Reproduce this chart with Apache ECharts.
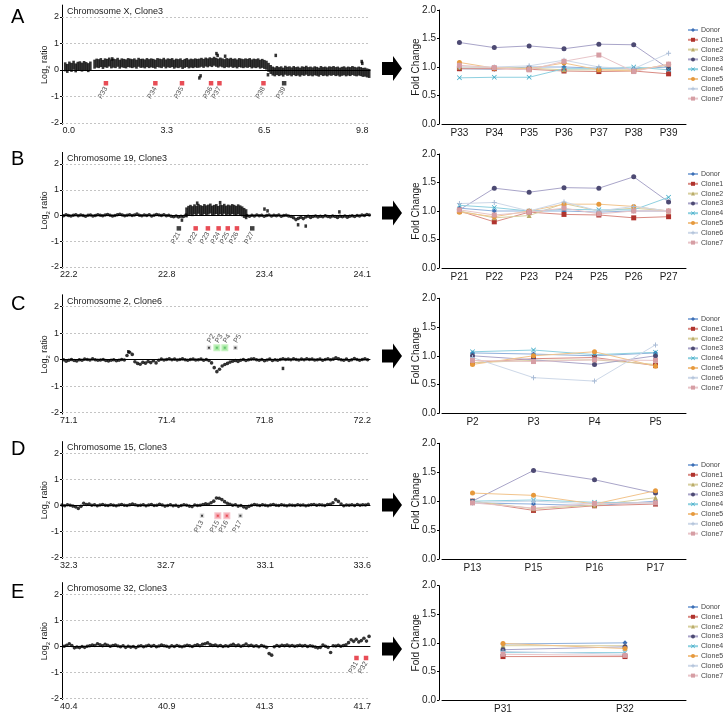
<!DOCTYPE html>
<html><head><meta charset="utf-8">
<script src="https://cdn.jsdelivr.net/npm/echarts@6/dist/echarts.min.js"></script>
<style>html,body{margin:0;padding:0;background:#fff}#c{width:725px;height:714px}</style>
</head><body><div id="c"></div>
<script>
// ================= DATA =================
const panelLetters = ['A','B','C','D','E'];
const titles = ['Chromosome X, Clone3','Chromosome 19, Clone3','Chromosome 2, Clone6','Chromosome 15, Clone3','Chromosome 32, Clone3'];
const log2Ticks = [-2,-1,0,1,2];
const log2Grid = [-2,-1,1,2];
const ticksA = [0.0, 3.27, 6.53, 9.8];
const ticksB = [22.16, 22.8, 23.44, 24.08];
const ticksC = [71.06, 71.43, 71.8, 72.17];
const ticksD = [32.26, 32.69, 33.13, 33.56];
const ticksE = [40.44, 40.86, 41.28, 41.7];

// dense probe band, panel A (evenly spaced probes)
const bandStartA = -0.12, bandStepA = 0.07;
const bandA = [0.12,0.06,0.15,0.10,0.18,0.08,0.14,0.16,0.11,0.17,0.13,0.09,0.15,
 null,
 0.22,0.26,0.24,0.28,0.21,0.27,0.25,0.30,0.23,0.26,
 0.24,0.29,0.22,0.27,0.25,0.23,0.28,0.26,0.24,0.27,
 0.22,0.29,0.25,0.26,0.23,0.28,0.24,0.27,0.25,0.22,
 0.28,0.26,0.24,0.29,0.23,0.27,0.25,0.28,0.22,0.26,
 0.24,0.27,0.21,0.25,0.28,0.23,0.26,0.24,0.27,0.25,
 0.26,0.29,0.25,0.30,0.27,0.31,0.28,0.33,0.29,0.26,
 0.30,0.27,0.24,0.28,0.26,0.29,0.25,0.27,0.23,0.28,
 0.26,0.24,0.27,0.25,0.28,0.23,0.26,0.24,0.27,0.22,
 0.25,0.21,0.18,
 0.10,0.02,
 -0.04,-0.07,-0.02,-0.06,-0.03,-0.08,-0.01,-0.05,-0.03,-0.07,
 -0.02,-0.06,-0.04,-0.08,-0.03,-0.05,-0.01,-0.06,-0.04,-0.07,
 -0.03,-0.05,-0.08,-0.02,-0.06,-0.04,-0.07,-0.03,-0.05,-0.02,
 -0.06,-0.04,-0.08,-0.05,-0.03,-0.07,-0.04,-0.06,-0.02,-0.05,
 -0.07,-0.04,-0.06,-0.09,-0.08,-0.11,-0.13];
const outA = [[4.36,-0.30],[4.40,-0.22],[4.93,0.62],[4.97,0.55],[5.22,0.52],[6.65,-0.18],[6.91,0.55],[9.78,0.32],[9.80,0.25],[1.45,0.42]];

// panel B
const dotStartB = 22.11, dotStepB = 0.016;
const dotsB = [0.02,-0.01,0.03,0.00,-0.02,0.01,0.03,-0.01,0.02,0.00,
 -0.03,0.01,0.02,-0.02,0.00,0.03,0.01,-0.01,0.02,0.04,
 0.01,-0.02,0.00,0.03,0.05,0.02,-0.01,0.01,0.03,0.00,
 0.02,0.06,0.01,-0.01,0.02,0.00,0.03,-0.02,0.01,0.04,
 0.02,0.00,0.03,-0.01,0.01,-0.03,-0.05,-0.02,-0.06,-0.03,
 -0.04,0.02,
 null,null,null,null,null,null,null,null,null,null,null,null,
 null,null,null,null,null,null,null,null,null,null,null,null,
 0.00,-0.03,0.01,-0.02,0.02,-0.01,0.01,-0.03,0.00,0.02,
 -0.02,0.01,-0.01,0.02,-0.03,0.00,0.01,-0.02,-0.04,
 -0.09,-0.16,-0.11,-0.07,-0.12,
 -0.06,-0.03,-0.08,-0.04,-0.02,-0.06,-0.03,-0.05,-0.01,-0.04,
 -0.06,-0.02,-0.04,-0.08,-0.03,-0.05,-0.02,-0.07,-0.03,-0.01,
 -0.04,0.00,-0.02,0.02,0.00,0.04,0.02];
const bandStartB = 22.93, bandStepB = 0.013;
const bandB = [0.12,0.18,0.22,0.17,0.24,0.19,0.26,0.21,0.18,0.25,
 0.20,0.23,0.27,0.19,0.22,0.25,0.18,0.24,0.21,0.26,
 0.19,0.23,0.20,0.25,0.22,0.18,0.24,0.20,0.16,0.10,0.05];
const outB = [[22.90,-0.18],[23.44,0.25],[23.46,0.18],[23.66,-0.36],[23.71,-0.41],[23.93,0.14],[23.00,0.48],[23.15,0.50]];

// panel C
const dotStartC = 71.03, dotStepC = 0.01;
const dotsC = [-0.04,0.00,-0.06,-0.02,0.01,-0.03,-0.05,0.00,-0.02,0.02,
 0.01,-0.01,0.03,0.00,-0.02,-0.01,0.01,-0.03,-0.05,-0.02,
 0.00,-0.04,-0.02,0.01,-0.01,
 0.16,0.28,0.20,
 -0.08,-0.14,-0.17,-0.10,-0.13,-0.07,-0.11,-0.04,-0.12,
 -0.02,0.02,-0.01,0.01,0.03,0.00,0.02,-0.01,0.01,0.03,
 0.00,-0.02,0.01,0.02,-0.01,0.00,0.02,-0.02,0.01,-0.03,
 -0.12,-0.30,-0.45,-0.36,-0.24,-0.18,
 -0.14,-0.09,-0.06,-0.03,-0.07,
 -0.02,0.01,-0.03,0.00,0.02,0.03,0.00,-0.02,0.01,-0.04,
 -0.01,0.02,-0.03,0.00,-0.02,0.01,
 0.03,0.01,0.02,0.00,0.03,0.01,-0.01,0.02,0.00,0.03,
 0.01,0.02,-0.01,0.00,0.02,-0.02,0.01,0.03,0.00,0.02,
 0.07,0.03,0.00,-0.02,0.02,-0.03,0.00,0.04,0.01,-0.02,
 0.01,0.03,0.00,0.02];
const outC = [[71.87,-0.33],[71.285,0.30]];

// panel D
const dotStartD = 32.23, dotStepD = 0.012;
const dotsD = [0.01,-0.02,0.02,0.00,-0.03,-0.06,-0.12,-0.04,0.08,0.03,
 0.05,0.00,0.02,-0.02,0.01,0.03,0.00,-0.01,0.02,0.00,
 -0.02,0.01,0.03,0.00,-0.01,0.02,0.05,0.02,-0.01,0.00,
 0.02,-0.02,0.01,0.03,-0.01,0.00,0.04,0.01,-0.03,-0.01,
 0.02,-0.02,0.00,-0.04,-0.01,0.02,0.00,-0.03,-0.05,0.01,
 -0.01,0.00,0.03,0.06,0.04,
 0.10,0.16,0.28,0.27,0.22,0.14,0.08,0.04,
 0.00,0.02,-0.03,-0.01,-0.06,-0.10,-0.04,
 0.00,0.03,0.01,-0.01,0.02,0.00,-0.02,0.01,0.03,0.00,
 -0.01,0.02,0.00,-0.02,0.01,0.00,-0.01,0.02,0.00,0.01,
 -0.02,0.00,0.02,0.03,0.00,0.02,0.01,-0.01,0.03,0.04,
 0.10,0.22,0.15,0.05,-0.02,0.01,0.00,0.02,-0.01,0.03,
 0.00,0.02,0.01,0.04,0.03];
const outD = [];

// panel E
const dotStartE = 40.42, dotStepE = 0.011;
const dotsE = [0.00,0.04,0.10,0.03,-0.06,-0.03,-0.05,-0.01,-0.04,0.00,
 0.02,0.05,0.03,0.10,0.06,0.02,0.08,0.04,0.00,0.03,
 0.05,0.01,-0.02,0.02,-0.04,0.00,-0.03,-0.01,-0.05,0.00,
 0.02,-0.02,0.01,0.04,0.00,0.03,-0.02,0.01,0.05,0.02,
 0.00,-0.03,0.02,-0.01,0.03,0.00,-0.02,0.01,0.04,0.02,
 -0.01,0.03,0.06,0.02,0.08,0.10,0.13,0.07,0.03,0.05,
 0.01,0.03,-0.01,0.02,0.00,0.04,0.08,0.02,0.05,0.00,
 0.03,0.09,0.02,0.04,0.00,0.02,-0.02,0.03,0.00,-0.04,
 -0.28,-0.34,-0.02,0.03,0.00,0.04,0.02,0.05,0.01,0.03,
 0.00,0.02,0.04,0.01,0.03,-0.01,0.02,0.00,-0.03,-0.06,
 -0.04,0.05,0.00,-0.04,-0.24,0.02,0.01,0.04,0.00,0.03,
 0.06,0.14,0.25,0.19,0.27,0.17,0.22,0.31,0.20,0.38];
const outE = [];

// probe positions (Mb) and log2 level where they are drawn; kind: r = red, g = green, n = black
const probesA = ['P33','P34','P35','P36','P37','P38','P39'];
const probePosA = [1.24,2.89,3.78,4.75,5.03,6.50,7.19];
const probeKindA = ['r','r','r','r','r','r','n'];
const probeLevelA = -0.5;
const probesB = ['P21','P22','P23','P24','P25','P26','P27'];
const probePosB = [22.88,22.99,23.07,23.14,23.20,23.26,23.36];
const probeKindB = ['n','r','r','r','r','r','n'];
const probeLevelB = -0.5;
const probesC = ['P2','P3','P4','P5'];
const probePosC = [71.59,71.62,71.65,71.69];
const probeKindC = ['n','g','g','n'];
const probeLevelC = 0.45;
const probesD = ['P13','P15','P16','P17'];
const probePosD = [32.85,32.92,32.96,33.02];
const probeKindD = ['n','r','r','n'];
const probeLevelD = -0.4;
const probesE = ['P31','P32'];
const probePosE = [41.675,41.716];
const probeKindE = ['r','r'];
const probeLevelE = -0.45;

// fold change (right panels); rows follow cloneNames order
const cloneNames = ['Donor','Clone1','Clone2','Clone3','Clone4','Clone5','Clone6','Clone7'];
const foldA = [
 [0.97,0.96,1.00,1.00,0.98,0.97,1.00],
 [0.97,0.97,0.96,0.93,0.92,0.93,0.88],
 [1.00,0.99,0.98,0.95,0.95,0.95,1.03],
 [1.43,1.34,1.37,1.32,1.40,1.39,0.97],
 [0.81,0.82,0.82,0.97,0.97,1.00,0.95],
 [1.08,0.98,0.97,1.07,0.95,0.93,1.05],
 [1.00,1.00,1.02,1.12,1.00,0.97,1.24],
 [1.03,0.99,0.95,1.10,1.21,0.92,1.05]];
const foldB = [
 [1.05,1.00,1.00,1.00,0.98,1.00,1.00],
 [1.00,0.81,0.98,0.94,0.93,0.88,0.90],
 [1.00,0.88,0.92,1.13,1.00,1.05,1.00],
 [1.02,1.40,1.33,1.41,1.40,1.60,1.16],
 [1.10,1.06,1.00,1.03,1.02,1.02,1.24],
 [0.98,0.90,1.00,1.12,1.12,1.08,1.00],
 [1.13,1.15,1.00,1.16,1.00,1.08,1.00],
 [1.02,0.93,0.98,1.05,0.95,1.00,1.00]];
const foldC = [
 [1.05,1.03,1.00,1.05],
 [0.88,0.95,0.97,0.83],
 [0.88,0.92,0.93,0.85],
 [1.00,0.93,0.85,1.00],
 [1.07,1.10,1.02,1.06],
 [0.85,1.00,1.07,0.82],
 [0.97,0.62,0.56,1.19],
 [0.92,0.90,0.93,0.92]];
const foldD = [
 [0.97,0.95,0.92,1.00],
 [1.00,0.84,0.92,0.95],
 [1.00,0.87,0.93,1.06],
 [1.00,1.53,1.37,1.14],
 [1.00,1.02,0.98,0.97],
 [1.14,1.10,0.95,1.18],
 [0.98,1.00,0.95,0.98],
 [0.97,0.88,0.96,0.97]];
const foldE = [
 [0.98,1.00],
 [0.76,0.76],
 [0.95,0.95],
 [0.88,0.93],
 [0.83,0.83],
 [0.99,0.90],
 [0.85,0.80],
 [0.80,0.78]];

// ================= LAYOUT / STYLE =================
const FONT = "'Liberation Sans', Arial, Helvetica, sans-serif";
const markColor = ['#3d6fb5','#b0342e','#b9ab68','#4d4a73','#35a6c4','#e6993c','#a9bcd6','#d69ea4'];
const lineColor = ['#8fb0dc','#d98a82','#d8cf9e','#a9a5c9','#8ed0e0','#f2c48c','#cdd8e8','#e8c5c9'];
const markSymbol = ['diamond','rect','triangle','circle',
  'path://M1,0L5,4L9,0L10,1L6,5L10,9L9,10L5,6L1,10L0,9L4,5L0,1Z','circle',
  'path://M4,0H6V4H10V6H6V10H4V6H0V4H4Z','rect'];
const kindColor = {r:'#e2202c', g:'#3cb54a', n:'#111111'};
const kindHalo = {r:'#f6b8c0', g:'#b6f0b0', n:'#ffffff'};

const leftPanels = [
 {ticks:ticksA, y2:17,    ym2:123,   band:{s:bandStartA,d:bandStepA,v:bandA,h:9}, dots:null, out:outA,
  pr:{n:probesA,p:probePosA,k:probeKindA,l:probeLevelA,side:'below',halo:false}},
 {ticks:ticksB, y2:164,   ym2:267,   band:{s:bandStartB,d:bandStepB,v:bandB,h:10}, dots:{s:dotStartB,d:dotStepB,v:dotsB}, out:outB,
  pr:{n:probesB,p:probePosB,k:probeKindB,l:probeLevelB,side:'below',halo:false}},
 {ticks:ticksC, y2:306.7, ym2:412.7, band:null, dots:{s:dotStartC,d:dotStepC,v:dotsC}, out:outC,
  pr:{n:probesC,p:probePosC,k:probeKindC,l:probeLevelC,side:'above',halo:true}},
 {ticks:ticksD, y2:453.3, ym2:557.3, band:null, dots:{s:dotStartD,d:dotStepD,v:dotsD}, out:outD,
  pr:{n:probesD,p:probePosD,k:probeKindD,l:probeLevelD,side:'below',halo:true}},
 {ticks:ticksE, y2:594.3, ym2:698.3, band:null, dots:{s:dotStartE,d:dotStepE,v:dotsE}, out:outE,
  pr:{n:probesE,p:probePosE,k:probeKindE,l:probeLevelE,side:'below',halo:false}}
];
const rightPanels = [
 {cats:probesA, fold:foldA, y2:10,    y0:124,   legTop:26},
 {cats:probesB, fold:foldB, y2:154,   y0:268,   legTop:170},
 {cats:probesC, fold:foldC, y2:298.3, y0:413.3, legTop:315},
 {cats:probesD, fold:foldD, y2:443.3, y0:559,   legTop:461},
 {cats:probesE, fold:foldE, y2:585.7, y0:700.7, legTop:603}
];
const arrowY = [68.5, 213, 356, 505, 649];
const letterY = [18, 160, 305, 450, 593];

// ================= BUILD =================
const grid = [], xAxis = [], yAxis = [], series = [], title = [], legend = [], graphic = [];
const txt = '#1a1a1a';
const seq = (b) => b.v.map((v,i)=>[+(b.s + i*b.d).toFixed(4), v]).filter(p=>p[1]!==null);

leftPanels.forEach((p, k) => {
  const gi = grid.length;
  const u = (p.ym2 - p.y2) / 4;
  const top = p.y2 - 0.45*u, bottom = p.ym2 + 0.05*u;
  grid.push({left:62, width:308, top:top, height:bottom-top});
  const s = p.ticks[0], e = p.ticks[p.ticks.length-1], L = e - s;
  xAxis.push({gridIndex:gi, type:'value', min: s - 6.8*L/293.5, max: e + 7.7*L/293.5,
    axisLine:{show:true, lineStyle:{color:'#000', width:1}}, axisTick:{show:false}, splitLine:{show:false},
    axisLabel:{customValues:p.ticks, formatter:(v)=>v.toFixed(1), fontSize:9, color:txt, margin:2, fontFamily:FONT}});
  yAxis.push({gridIndex:gi, type:'value', min:-2.05, max:2.45,
    axisLine:{show:true, onZero:false, lineStyle:{color:'#000', width:1}},
    axisTick:{show:true, customValues:log2Ticks, length:2, lineStyle:{color:'#000'}},
    splitLine:{show:false},
    axisLabel:{customValues:log2Ticks, formatter:(v)=>String(v), fontSize:9, color:txt, margin:3, fontFamily:FONT},
    name:'{n|Log}{s|2}{n| ratio}', nameLocation:'middle', nameGap:11, nameMoveOverlap:false,
    nameTextStyle:{rich:{n:{fontSize:9, color:txt, lineHeight:12, fontFamily:FONT}, s:{fontSize:6, color:txt, lineHeight:12, verticalAlign:'bottom', fontFamily:FONT}}}});
  title.push({text:titles[k], left:67, top:p.y2-10, padding:0, textStyle:{fontSize:9, fontWeight:'normal', color:txt, fontFamily:FONT}});
  // dotted grid lines
  series.push({type:'scatter', xAxisIndex:gi, yAxisIndex:gi, data:[], z:1, silent:true,
    markLine:{silent:true, symbol:'none', animation:false, label:{show:false},
      lineStyle:{color:'#c4c4c4', type:[2,2], width:1},
      data:log2Grid.map(t=>({yAxis:t}))}});
  if (p.band) series.push({type:'scatter', xAxisIndex:gi, yAxisIndex:gi, z:3, silent:true, animation:false,
    symbol:'rect', symbolSize:[2.6, p.band.h], itemStyle:{color:'#000'}, data:seq(p.band)});
  if (p.dots) series.push({type:'scatter', xAxisIndex:gi, yAxisIndex:gi, z:3, silent:true, animation:false,
    symbol:'circle', symbolSize:3.6, itemStyle:{color:'#000'}, data:seq(p.dots)});
  if (p.out.length) series.push({type:'scatter', xAxisIndex:gi, yAxisIndex:gi, z:3, silent:true, animation:false,
    symbol:'rect', symbolSize:[2.6,3.4], itemStyle:{color:'#000'}, data:p.out});
  const pr = p.pr, below = pr.side === 'below';
  series.push({type:'scatter', xAxisIndex:gi, yAxisIndex:gi, z:4, silent:true, animation:false,
    symbol:'rect', symbolSize:4.5,
    data: pr.n.map((n,i)=>({name:n, value:[pr.p[i], pr.l],
      itemStyle:{color:kindColor[pr.k[i]], borderColor: pr.halo ? kindHalo[pr.k[i]] : 'transparent', borderWidth: pr.halo ? 2.5 : 0}})),
    label:{show:true, formatter:'{b}', fontSize:7, color:txt, fontFamily:FONT, rotate:60,
      position: below ? 'bottom' : 'top', align: below ? 'right' : 'left', verticalAlign:'middle', distance: 2}});
});

rightPanels.forEach((p, k) => {
  const gi = grid.length;
  grid.push({left:442, width:244, top:p.y2, height:p.y0-p.y2});
  xAxis.push({gridIndex:gi, type:'category', data:p.cats, boundaryGap:true,
    axisLine:{show:true, lineStyle:{color:'#000', width:1}}, axisTick:{show:false},
    axisLabel:{fontSize:10, color:txt, margin:4, fontFamily:FONT}});
  yAxis.push({gridIndex:gi, type:'value', min:0, max:2, interval:0.5, offset:3,
    axisLine:{show:true, lineStyle:{color:'#000', width:1}},
    axisTick:{show:true, length:2, lineStyle:{color:'#000'}}, splitLine:{show:false},
    axisLabel:{formatter:(v)=>v.toFixed(1), fontSize:10, color:txt, margin:3, fontFamily:FONT},
    name:'Fold Change', nameLocation:'middle', nameGap:18, nameMoveOverlap:false,
    nameTextStyle:{fontSize:10, color:txt, fontFamily:FONT}});
  cloneNames.forEach((nm, j) => {
    series.push({type:'line', name:nm, xAxisIndex:gi, yAxisIndex:gi, data:p.fold[j], z:5, animation:false,
      symbol:markSymbol[j], symbolSize:5, showSymbol:true,
      itemStyle:{color:markColor[j]}, lineStyle:{color:lineColor[j], width:1}});
  });
  legend.push({data:cloneNames, orient:'vertical', left:687, top:p.legTop, padding:0,
    itemWidth:10, itemHeight:5, itemGap:1.8, selectedMode:false,
    textStyle:{fontSize:7, color:'#444', lineHeight:8, fontFamily:FONT, padding:[0,0,0,-2]}});
});

panelLetters.forEach((L, k) => {
  graphic.push({type:'text', left:11, top:letterY[k]-11,
    style:{text:L, font:"20px 'Liberation Sans', Arial, sans-serif", fill:'#000'}});
  const c = arrowY[k];
  graphic.push({type:'polygon', silent:true,
    shape:{points:[[382,c-6.5],[393,c-6.5],[393,c-12.5],[402,c],[393,c+12.5],[393,c+6.5],[382,c+6.5]]},
    style:{fill:'#000'}});
});

const chart = echarts.init(document.getElementById('c'), null, {renderer:'canvas'});
chart.setOption({
  animation:false, backgroundColor:'#fff',
  textStyle:{fontFamily:FONT},
  grid, xAxis, yAxis, series, title, legend, graphic
});
</script></body></html>
